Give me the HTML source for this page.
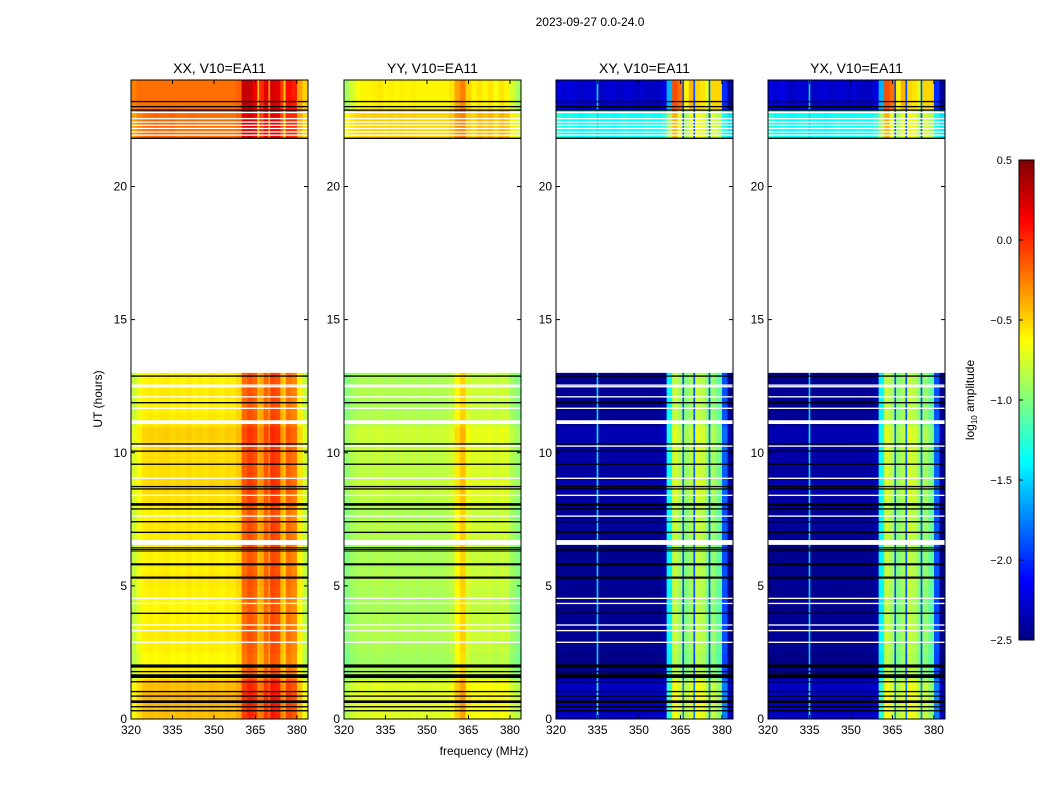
<!DOCTYPE html>
<html><head><meta charset="utf-8">
<style>
body{margin:0;background:#fff;}
svg text{font-family:"Liberation Sans",sans-serif;fill:#000;}
</style></head>
<body>
<svg id="fig" width="1050" height="800" xmlns="http://www.w3.org/2000/svg">
<rect width="1050" height="800" fill="#fff"/>
<text x="590" y="26" font-size="12" text-anchor="middle">2023-09-27 0.0-24.0</text>
<text x="102" y="399" font-size="12" text-anchor="middle" transform="rotate(-90 102 399)">UT (hours)</text>
<text x="484" y="755" font-size="12" text-anchor="middle">frequency (MHz)</text>
<g id="panels"></g>
<g id="cbar"></g>
</svg>
<script>
// ---- data ----
const channels = [321,323,325,327,329,331,333,335,337,339,341,343,345,347,349,351,353,355,357,359,361,363,365,367,369,371,373,375,377,379,381,383];
const panelTitles = ["XX, V10=EA11","YY, V10=EA11","XY, V10=EA11","YX, V10=EA11"];
const xxLow  = [-0.8,-0.68,-0.6,-0.58,-0.6,-0.58,-0.57,-0.6,-0.58,-0.6,-0.57,-0.6,-0.58,-0.6,-0.57,-0.58,-0.6,-0.57,-0.58,-0.52,-0.2,-0.12,-0.18,-0.38,-0.18,-0.08,-0.12,-0.42,-0.22,-0.28,-0.6,-0.82];
const xxTopA = [-0.35,-0.25,-0.2,-0.18,-0.15,-0.18,-0.18,-0.15,-0.2,-0.2,-0.18,-0.18,-0.2,-0.2,-0.2,-0.2,-0.2,-0.2,-0.2,-0.15,0.2,0.25,0.15,-0.05,0.15,0.2,0.15,-0.1,0.0,0.0,-0.35,-0.5];
const xxTopB = [-0.25,-0.2,-0.2,-0.2,-0.2,-0.2,-0.2,-0.2,-0.2,-0.2,-0.2,-0.2,-0.2,-0.2,-0.2,-0.2,-0.2,-0.2,-0.2,-0.15,0.3,0.3,0.15,0.0,0.2,0.25,0.2,-0.05,0.1,0.05,-0.35,-0.5];
const yyLow  = [-1.0,-0.92,-0.88,-0.86,-0.88,-0.86,-0.85,-0.88,-0.86,-0.88,-0.86,-0.88,-0.86,-0.88,-0.86,-0.88,-0.86,-0.88,-0.86,-0.82,-0.62,-0.5,-0.75,-0.8,-0.78,-0.8,-0.78,-0.82,-0.78,-0.8,-0.92,-1.0];
const yyTopA = [-0.65,-0.55,-0.5,-0.48,-0.5,-0.48,-0.48,-0.5,-0.48,-0.5,-0.48,-0.5,-0.48,-0.5,-0.5,-0.5,-0.5,-0.5,-0.5,-0.45,-0.3,-0.25,-0.45,-0.5,-0.4,-0.45,-0.4,-0.5,-0.4,-0.45,-0.6,-0.75];
const yyTopB = [-0.9,-0.75,-0.65,-0.6,-0.6,-0.58,-0.56,-0.6,-0.58,-0.6,-0.58,-0.6,-0.58,-0.6,-0.6,-0.6,-0.6,-0.6,-0.6,-0.55,-0.35,-0.25,-0.5,-0.6,-0.55,-0.6,-0.55,-0.65,-0.55,-0.6,-0.75,-0.9];
const xyLow  = [-2.45,-2.45,-2.45,-2.45,-2.45,-2.45,-2.45,-2.45,-2.45,-2.45,-2.45,-2.45,-2.45,-2.45,-2.45,-2.45,-2.45,-2.45,-2.45,-2.4,-1.4,-0.8,-0.9,-1.0,-0.9,-0.8,-0.85,-1.0,-0.95,-1.1,-1.9,-2.45];
const xyTopA = [-1.25,-1.35,-1.3,-1.35,-1.4,-1.35,-1.3,-1.3,-1.35,-1.35,-1.4,-1.35,-1.3,-1.35,-1.35,-1.35,-1.3,-1.35,-1.35,-1.25,-0.9,-0.4,-0.7,-0.9,-0.7,-0.65,-0.7,-0.9,-0.75,-0.85,-1.3,-1.45];
const xyTopB = [-2.2,-2.25,-2.2,-2.25,-2.3,-2.25,-2.25,-2.3,-2.3,-2.25,-2.25,-2.3,-2.25,-2.25,-2.3,-2.25,-2.3,-2.3,-2.3,-2.2,-1.6,-0.1,-0.2,-0.6,-0.4,-0.5,-0.55,-0.7,-0.5,-0.5,-2.0,-2.4];
const yxLow  = xyLow.slice();
const yxTopA = xyTopA.slice();
const yxTopB = xyTopB.slice();
const spurFreq = [335,366,370,375.5];
const spurXX = [null,-0.45,-0.35,-0.5];
const spurYY = [null,null,null,null];
const spurXY = [-1.5,-1.9,-1.9,-1.9];
const spurYX = [-1.5,-1.9,-1.9,-1.9];
const lowRowStart = [0,0.5,1,1.5,2,2.5,3,3.5,4,4.5,5,5.5,6,6.5,7,7.5,8,8.5,9,9.5,10,10.5,11,11.5,12,12.5];
const lowRowOffset = [0.15,0.18,0.15,0,-0.03,0,0.02,0,-0.02,0,0.02,0,0,0.02,0.03,0,0.05,0.08,0.05,0.06,0.08,0.1,0.02,0,0.02,0];
const lowEnd = 13.0, topAStart = 21.8, topAEnd = 22.9, topEnd = 24;
const blackLines = [12.88,11.88,10.33,10.06,9.57,8.73,8.64,8.06,7.89,7.41,7.01,6.43,6.37,6.31,5.81,5.31,3.97,1.99,1.78,1.61,1.40,1.03,0.86,0.65,0.46,0.31,23.19,23.0,22.87,21.81];
const blackThick = [0.05,0.05,0.05,0.05,0.05,0.05,0.05,0.1,0.05,0.05,0.05,0.04,0.04,0.04,0.08,0.08,0.05,0.12,0.05,0.14,0.05,0.05,0.05,0.1,0.05,0.05,0.05,0.05,0.05,0.05];
const whiteLines = [12.54,12.48,12.1,11.67,11.15,10.25,9.04,8.4,7.62,6.63,4.53,4.34,3.53,3.32,2.88,22.78,22.55,22.42,22.3,22.18,22.05,21.93];
const whiteThick = [0.05,0.05,0.05,0.05,0.14,0.05,0.05,0.05,0.05,0.18,0.05,0.05,0.05,0.05,0.05,0.05,0.05,0.05,0.05,0.05,0.05,0.05];
const xTicks = [320,335,350,365,380];
const yTicks = [0,5,10,15,20];
const cbTicks = [-2.5,-2.0,-1.5,-1.0,-0.5,0.0,0.5];

const profiles = [[xxLow,xxTopA,xxTopB],[yyLow,yyTopA,yyTopB],[xyLow,xyTopA,xyTopB],[yxLow,yxTopA,yxTopB]];
const spurs = [spurXX,spurYY,spurXY,spurYX];
const panelX = [131,344,556,768];
const PW = 177, PT = 80, PB = 719;
const NS = "http://www.w3.org/2000/svg";
const fMin = 320, fMax = 384, tMin = 0, tMax = 24, vMin = -2.5, vMax = 0.5;

function jet(v){
  let t = Math.max(0, Math.min(1, (v - vMin)/(vMax - vMin)));
  const c = x => Math.round(255*Math.max(0, Math.min(1, x)));
  const r = c(Math.min(4*t-1.5, -4*t+4.5));
  const g = c(Math.min(4*t-0.5, -4*t+3.5));
  const b = c(Math.min(4*t+0.5, -4*t+2.5));
  return `rgb(${r},${g},${b})`;
}
function mk(tag, attrs, parent){
  const e = document.createElementNS(NS, tag);
  for (const k in attrs) e.setAttribute(k, attrs[k]);
  parent.appendChild(e);
  return e;
}
const yScale = h => PB - (h - tMin)/(tMax - tMin)*(PB - PT);

const panelsG = document.getElementById('panels');
panelTitles.forEach((title, p) => {
  const x0 = panelX[p];
  const xScale = f => x0 + (f - fMin)/(fMax - fMin)*PW;
  const g = mk('g', {}, panelsG);
  
  
  const cw = xScale(2) - xScale(0);
  const [low, tA, tB] = profiles[p];
  const blocks = [];
  lowRowStart.forEach((h0, r) => blocks.push([h0, Math.min(h0 + 0.5, lowEnd), low, lowRowOffset[r]]));
  blocks.push([topAStart, topAEnd, tA, 0]);
  blocks.push([topAEnd, topEnd, tB, 0]);
  blocks.forEach(([h0, h1, prof, off]) => {
    channels.forEach((f, c) => {
      const cell = mk('rect', {x: (xScale(f-1)).toFixed(2), y: yScale(h1).toFixed(2), width: (cw+0.4).toFixed(2), height: (yScale(h0)-yScale(h1)+0.4).toFixed(2), fill: jet(prof[c] + off)}, g);
      
      
    });
    spurFreq.forEach((f, s) => {
      const v = spurs[p][s];
      if (v === null) return;
      const sp = mk('rect', {x: (xScale(f-0.3)).toFixed(2), y: yScale(h1).toFixed(2), width: (xScale(0.6)-xScale(0)).toFixed(2), height: (yScale(h0)-yScale(h1)+0.4).toFixed(2), fill: jet(v + off)}, g);
      
      
    });
  });
  whiteLines.forEach((h, i) => {
    const ln = mk('rect', {x: x0, y: yScale(h + whiteThick[i]/2), width: PW, height: Math.max(1.2, yScale(h - whiteThick[i]/2) - yScale(h + whiteThick[i]/2)), fill: '#fff'}, g);
    
    
  });
  blackLines.forEach((h, i) => {
    const ln = mk('rect', {x: x0, y: yScale(h + blackThick[i]/2), width: PW, height: Math.max(1.0, yScale(h - blackThick[i]/2) - yScale(h + blackThick[i]/2)), fill: '#000'}, g);
    
    
  });
  const frame = mk('rect', {x: x0, y: PT, width: PW, height: PB-PT, fill: 'none', stroke: '#000', 'stroke-width': 1}, g);
  
  
  const tt = mk('text', {x: x0 + PW/2, y: PT - 7, 'font-size': 14, 'text-anchor': 'middle'}, g);
  tt.textContent = title;
  
  
  xTicks.forEach(f => {
    const x = xScale(f);
    mk('line', {x1: x, x2: x, y1: PB, y2: PB-4, stroke: '#000'}, g);
    mk('line', {x1: x, x2: x, y1: PT, y2: PT+4, stroke: '#000'}, g);
    const t = mk('text', {x: x, y: PB + 15, 'font-size': 12, 'text-anchor': 'middle'}, g);
    t.textContent = f;
    
    
  });
  yTicks.forEach(h => {
    const y = yScale(h);
    mk('line', {x1: x0, x2: x0+4, y1: y, y2: y, stroke: '#000'}, g);
    mk('line', {x1: x0+PW, x2: x0+PW-4, y1: y, y2: y, stroke: '#000'}, g);
    const t = mk('text', {x: x0 - 4, y: y + 4, 'font-size': 12, 'text-anchor': 'end'}, g);
    t.textContent = h;
    
    
  });
});

const cb = document.getElementById('cbar');
const cbX = 1019, cbW = 15, cbT = 160, cbB = 640;
const cbY = v => cbB - (v - vMin)/(vMax - vMin)*(cbB - cbT);
for (let i = 0; i < 120; i++){
  const v0 = vMin + (vMax - vMin)*i/120, v1 = vMin + (vMax - vMin)*(i+1)/120;
  mk('rect', {x: cbX, y: cbY(v1), width: cbW, height: cbY(v0)-cbY(v1)+0.5, fill: jet((v0+v1)/2)}, cb);
}
mk('rect', {x: cbX, y: cbT, width: cbW, height: cbB-cbT, fill: 'none', stroke: '#000'}, cb);
cbTicks.forEach(v => {
  const y = cbY(v);
  mk('line', {x1: cbX, x2: cbX+4, y1: y, y2: y, stroke: '#000'}, cb);
  const t = mk('text', {x: 1012, y: y + 4, 'font-size': 11, 'text-anchor': 'end'}, cb);
  t.textContent = v.toFixed(1).replace('-', '\u2212');
  
  
});
const cl = mk('text', {x: 974, y: 400, 'font-size': 12, 'text-anchor': 'middle', transform: 'rotate(-90 974 400)'}, cb);
cl.innerHTML = 'log<tspan font-size="8" dy="3">10</tspan><tspan dy="-3"> amplitude</tspan>';


</script>
</body></html>
